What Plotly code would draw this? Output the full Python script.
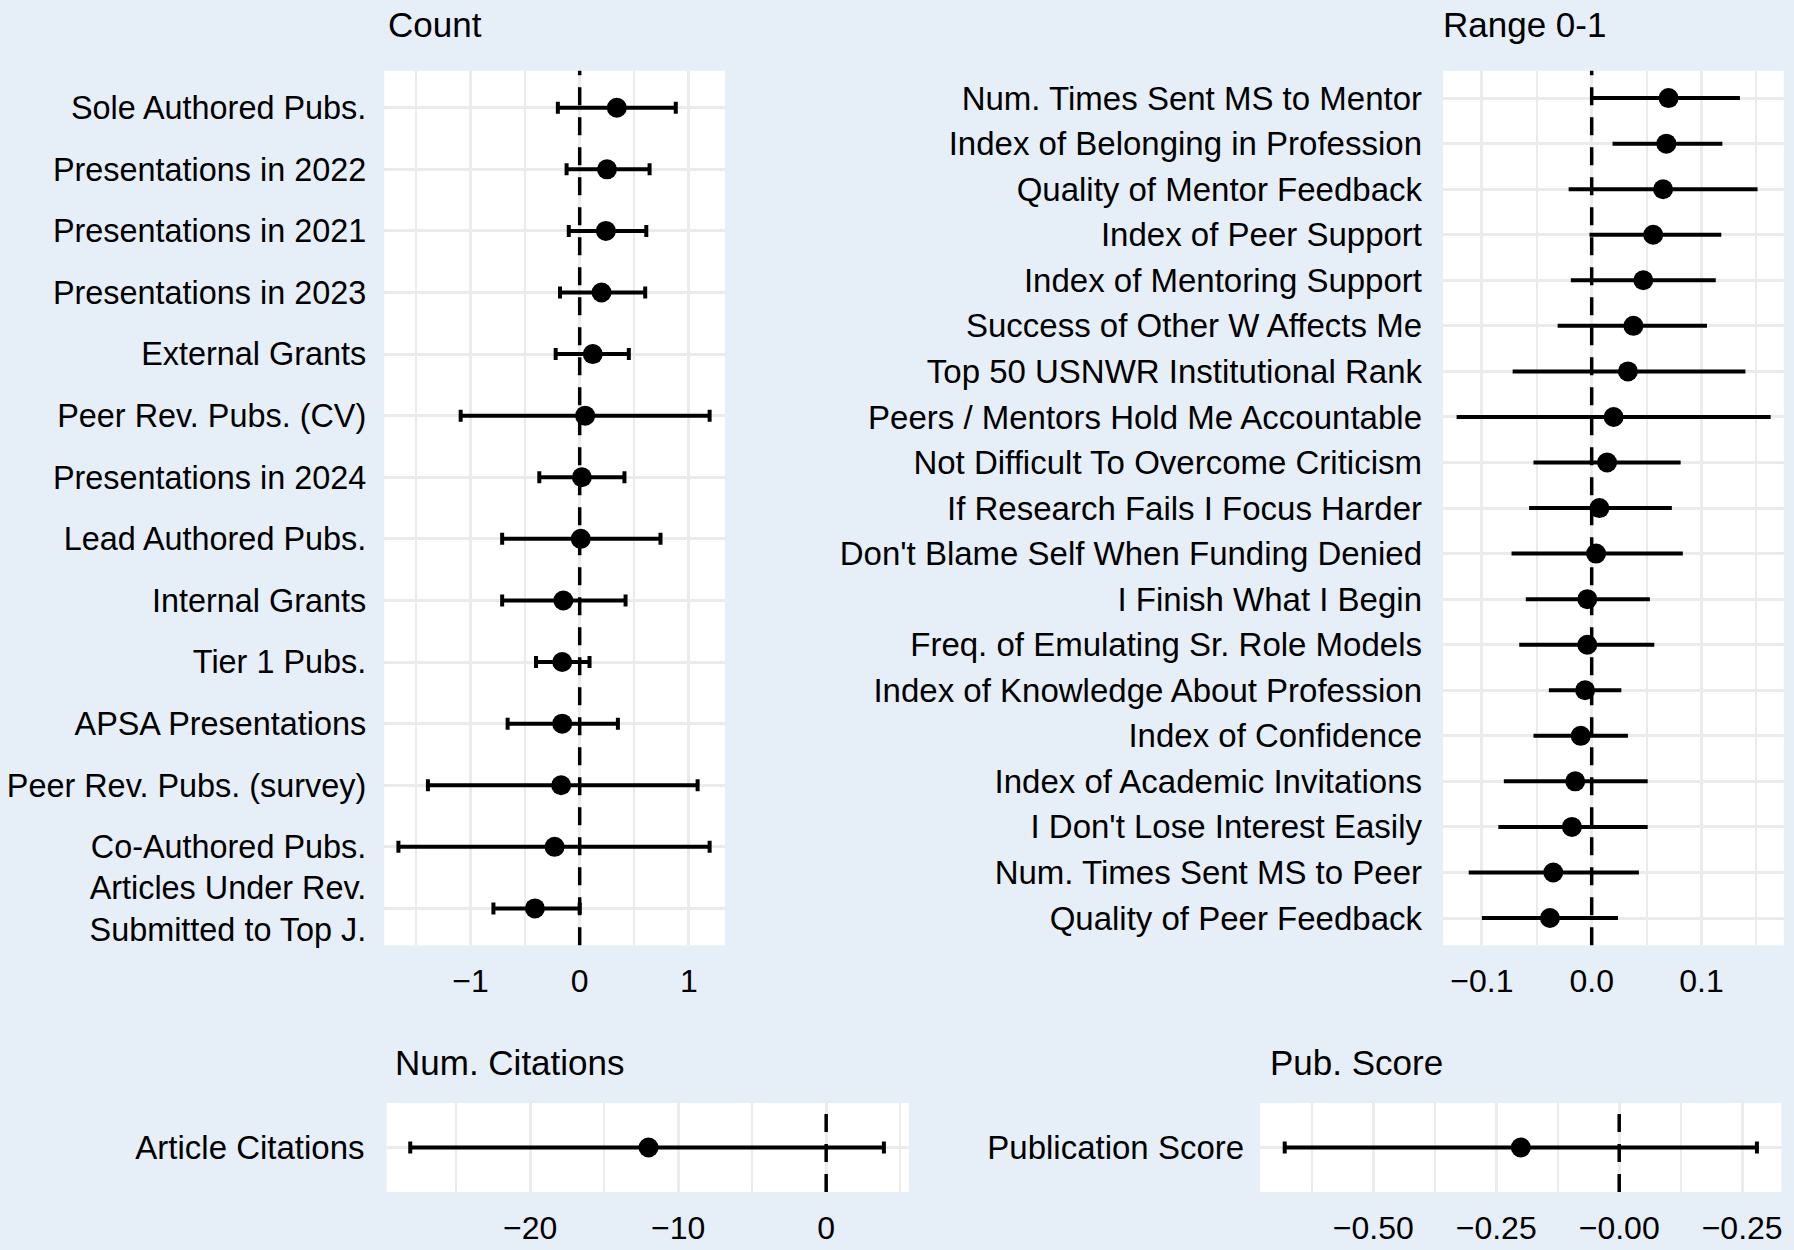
import plotly.graph_objs as go

# ---- data ----
count_labels = [
    "Sole Authored Pubs.", "Presentations in 2022", "Presentations in 2021",
    "Presentations in 2023", "External Grants", "Peer Rev. Pubs. (CV)",
    "Presentations in 2024", "Lead Authored Pubs.", "Internal Grants",
    "Tier 1 Pubs.", "APSA Presentations", "Peer Rev. Pubs. (survey)",
    "Co-Authored Pubs.", "Articles Under Rev.<br>Submitted to Top J.",
]
count_est = [0.34, 0.25, 0.24, 0.20, 0.12, 0.05, 0.02, 0.01, -0.15, -0.16, -0.16, -0.17, -0.23, -0.41]
count_lo = [-0.20, -0.12, -0.10, -0.18, -0.22, -1.09, -0.37, -0.71, -0.71, -0.40, -0.66, -1.39, -1.66, -0.79]
count_hi = [0.88, 0.64, 0.61, 0.60, 0.45, 1.19, 0.41, 0.74, 0.42, 0.09, 0.35, 1.08, 1.19, 0.00]

range_labels = [
    "Num. Times Sent MS to Mentor", "Index of Belonging in Profession",
    "Quality of Mentor Feedback", "Index of Peer Support",
    "Index of Mentoring Support", "Success of Other W Affects Me",
    "Top 50 USNWR Institutional Rank", "Peers / Mentors Hold Me Accountable",
    "Not Difficult To Overcome Criticism", "If Research Fails I Focus Harder",
    "Don't Blame Self When Funding Denied", "I Finish What I Begin",
    "Freq. of Emulating Sr. Role Models", "Index of Knowledge About Profession",
    "Index of Confidence", "Index of Academic Invitations",
    "I Don't Lose Interest Easily", "Num. Times Sent MS to Peer",
    "Quality of Peer Feedback",
]
range_est = [0.070, 0.068, 0.065, 0.056, 0.047, 0.038, 0.033, 0.020, 0.014, 0.007, 0.004,
             -0.004, -0.004, -0.006, -0.010, -0.015, -0.018, -0.035, -0.038]
range_lo = [0.001, 0.019, -0.021, -0.002, -0.019, -0.031, -0.072, -0.123, -0.053, -0.057, -0.073,
            -0.060, -0.066, -0.039, -0.053, -0.080, -0.085, -0.112, -0.100]
range_hi = [0.135, 0.119, 0.151, 0.118, 0.113, 0.105, 0.140, 0.163, 0.081, 0.073, 0.083,
            0.053, 0.057, 0.027, 0.033, 0.051, 0.051, 0.043, 0.024]

cite_labels = ["Article Citations"]
cite_est = [-12.0]
cite_lo = [-28.1]
cite_hi = [3.9]

score_labels = ["Publication Score"]
score_est = [-0.20]
score_lo = [-0.68]
score_hi = [0.28]
score_tickvals = [-0.50, -0.25, 0.00, 0.25]
score_ticktext = ["\u22120.50", "\u22120.25", "\u22120.00", "\u22120.25"]

BG = "#E6EEF8"
GRID = "#EBEBEB"
FONT = "Liberation Sans, Arial, sans-serif"
FS_TICK = 32
FS_TITLE = 35


def create_trace(labels, est, lo, hi, xa, ya, cap):
    """one panel of point estimates with horizontal confidence bars"""
    return go.Scatter(
        x=est, y=labels, xaxis=xa, yaxis=ya, mode="markers",
        marker={"color": "black", "size": 20},
        error_x={"type": "data", "symmetric": False,
                 "array": [h - e for h, e in zip(hi, est)],
                 "arrayminus": [e - l for e, l in zip(est, lo)],
                 "color": "black", "thickness": 4, "width": cap},
        showlegend=False, hoverinfo="skip",
    )


def y_axis(labels, xname, ydomain, standoff, size):
    n = len(labels)
    return dict(type="category", categoryorder="array", categoryarray=labels,
                range=[n - 1 + 0.6, -0.6], domain=ydomain, anchor=xname,
                showgrid=True, gridcolor=GRID, gridwidth=2.5, zeroline=False,
                ticks="", ticklabelstandoff=standoff, fixedrange=True,
                tickfont={"size": size, "color": "black", "family": FONT})


def x_axis(xdomain, yname, xrange, dtick, minor, **extra):
    ax = dict(domain=xdomain, anchor=yname, range=xrange, dtick=dtick, tick0=0,
              showgrid=True, gridcolor=GRID, gridwidth=2.5, zeroline=False,
              ticks="", ticklabelstandoff=14, fixedrange=True,
              minor={"tickmode": "linear", "tick0": 0, "dtick": minor,
                     "showgrid": True, "gridcolor": GRID, "gridwidth": 2},
              tickfont={"size": FS_TICK, "color": "black", "family": FONT})
    ax.update(extra)
    return ax


def create_layout():
    top = [0.2425, 0.9433]
    bottom = [0.0448, 0.1162]
    layout = go.Layout(
        width=1794, height=1250,
        margin={"l": 0, "r": 0, "t": 0, "b": 0},
        paper_bgcolor=BG, plot_bgcolor="white",
        font={"family": FONT, "size": FS_TICK, "color": "black"},
        xaxis=x_axis([0.2143, 0.4043], "y", [-1.79, 1.33], 1, 0.5),
        yaxis=y_axis(count_labels, "x", top, 17, 32.4),
        xaxis2=x_axis([0.8048, 0.9949], "y2", [-0.1354, 0.175], 0.1, 0.05, tickformat=".1f"),
        yaxis2=y_axis(range_labels, "x2", top, 20, 33),
        xaxis3=x_axis([0.2156, 0.5070], "y3", [-29.7, 5.6], 10, 5),
        yaxis3=y_axis(cite_labels, "x3", bottom, 21, 33),
        xaxis4=x_axis([0.7028, 0.9936], "y4", [-0.73, 0.33], None, 0.125,
                      tickmode="array", tickvals=score_tickvals, ticktext=score_ticktext),
        yaxis4=y_axis(score_labels, "x4", bottom, 15, 33),
    )
    titles = [("Count", 0.2155, 0.980), ("Range 0-1", 0.8036, 0.980),
              ("Num. Citations", 0.2190, 0.149), ("Pub. Score", 0.7070, 0.149)]
    layout.annotations = [
        dict(text=t, x=x, y=y, xref="paper", yref="paper", xanchor="left",
             yanchor="middle", showarrow=False,
             font={"size": FS_TITLE, "color": "black", "family": FONT})
        for t, x, y in titles
    ]
    layout.shapes = [
        dict(type="line", xref=xa, yref=ya + " domain", x0=0, x1=0, y0=0, y1=1,
             line={"color": "black", "width": 3.5, "dash": "18px,12px"}, layer="above")
        for xa, ya in [("x", "y"), ("x2", "y2"), ("x3", "y3"), ("x4", "y4")]
    ]
    return layout


def build_figure():
    data = [
        create_trace(count_labels, count_est, count_lo, count_hi, "x", "y", 6),
        create_trace(range_labels, range_est, range_lo, range_hi, "x2", "y2", 0),
        create_trace(cite_labels, cite_est, cite_lo, cite_hi, "x3", "y3", 6),
        create_trace(score_labels, score_est, score_lo, score_hi, "x4", "y4", 6),
    ]
    fig = go.Figure(data=data, layout=create_layout())
    fig.write_html("out.html", config={"displayModeBar": False},
                   post_script="document.body.style.margin='0';")


if __name__ == "__main__":
    build_figure()
